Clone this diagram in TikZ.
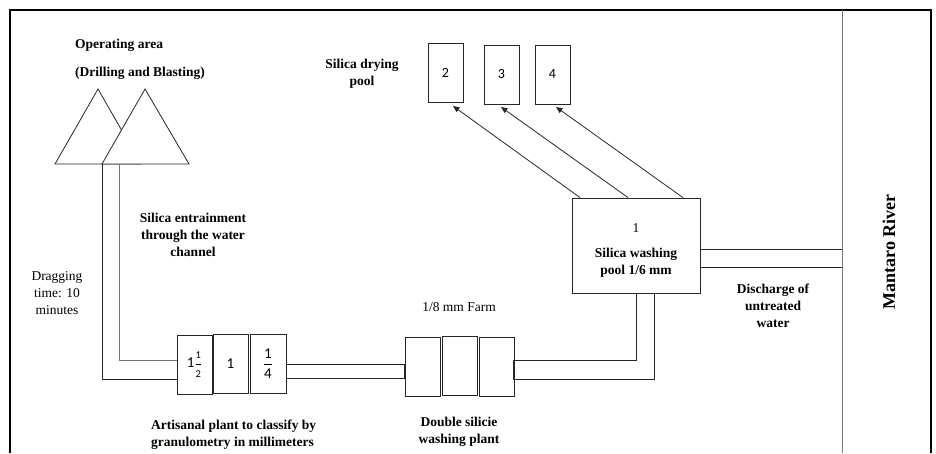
\documentclass[tikz,border=0pt]{standalone}
\usepackage{fontspec}
\setmainfont{Liberation Serif}
\newfontfamily\boxfont{Carlito}
\usetikzlibrary{arrows.meta}
\newcommand{\smalldig}[1]{\mbox{\fontsize{10.5}{10.5}\selectfont #1}}
\tikzset{
  ln/.style={draw=black!85, line width=0.8pt},
  gln/.style={draw=black!55, line width=0.9pt},
  boxn/.style={ln, fill=white, inner sep=0pt, minimum width=35pt, minimum height=59pt, font=\boxfont\fontsize{15}{17}\selectfont},
  lbl/.style={font=\bfseries\fontsize{13.5}{17}\selectfont, align=center, inner sep=0pt},
  rlbl/.style={font=\fontsize{13.5}{17}\selectfont, align=center, inner sep=0pt},
  arr/.style={ln, -{Triangle[length=6.5pt,width=5.5pt]}},
}
\begin{document}
\begin{tikzpicture}[x=1pt,y=-1pt]
\useasboundingbox (0,0) rectangle (936,453);
% frame
\coordinate (fTL) at (10,10);
\coordinate (fTR) at (931,10);
\draw[black, line width=1.8pt] (10,453) -- (fTL) -- (fTR) -- (931,453);
\coordinate (rivT) at (842,10);
\coordinate (rivB) at (842,453);
\draw[gln] (rivT) -- (rivB);
% triangles
\draw[ln, fill=white] (55,164) -- (98,89) -- (141,164) -- cycle;
\draw[ln, fill=white] (102,164) -- (145,89) -- (189,164) -- cycle;
% plant boxes
\node[boxn] (p1) at (194.5,364.5) {1$\displaystyle\frac{\smalldig{1}}{\smalldig{2}}$};
\node[boxn] (p2) at (230.5,363.5) {1};
\node[boxn, minimum width=36pt] (p3) at (268,363.5) {$\displaystyle\frac{\mbox{1}}{\mbox{4}}$};
% washing plant boxes
\node[boxn] (w1) at (422.5,366.5) {};
\node[boxn] (w2) at (459.5,365.5) {};
\node[boxn] (w3) at (496.5,366.5) {};
% washing pool
\node[ln, minimum width=128pt, minimum height=95pt, inner sep=0pt] (pool) at (636,245.5) {};
% drying pools
\node[boxn, font=\boxfont\fontsize{14}{16}\selectfont] (d2) at (445.5,72.5) {2};
\node[boxn, font=\boxfont\fontsize{14}{16}\selectfont] (d3) at (501.5,74.5) {3};
\node[boxn, font=\boxfont\fontsize{14}{16}\selectfont] (d4) at (552.5,74.5) {4};
% channel
\draw[ln] (102,164) -- (102,379) -- (p1.west |- 0,379);
\draw[gln] (119,164) -- (119,360) -- (p1.west |- 0,360);
% pipe plant -> washing plant
\draw[ln] (p3.east |- 0,364) rectangle (w1.west |- 0,378);
% pipe washing plant -> pool
\draw[ln] (pool.south -| 636,0) -- (636,360) -- (513,360) -- (513,379) -- (654,379) -- (pool.south -| 654,0);
% discharge
\draw[ln] (pool.east |- 0,249) -- (rivT |- 0,249);
\draw[ln] (pool.east |- 0,267) -- (rivT |- 0,267);
% arrows
\draw[arr] (pool.north -| 580,0) -- (453,106);
\draw[arr] (pool.north -| 628,0) -- (501,107);
\draw[arr] (pool.north -| 683,0) -- (556,107);
% texts
\node[lbl, anchor=west] (t1) at (75,45) {Operating area};
\node[lbl, anchor=west] (t2) at (75,73) {(Drilling and Blasting)};
\node[lbl] (t3) at (362,73.5) {Silica drying\\pool};
\node[lbl] (t4) at (193,235) {Silica entrainment\\through the water\\channel};
\node[rlbl] (t5) at (57,293) {Dragging\\time: 10\\minutes};
\node[rlbl] (t6) at (459,307) {1/8 mm Farm};
\node[lbl] (t7) at (459,431.5) {Double silicie\\washing plant};
\node[lbl, align=left, anchor=west] (t8) at (151,434.5) {Artisanal plant to classify by\\granulometry in millimeters};
\node[rlbl] (t9) at (636,228) {1};
\node[lbl] (t10) at (636,263) {Silica washing\\pool 1/6 mm};
\node[lbl] (t11) at (773,306) {Discharge of\\untreated\\water};
\node[font=\bfseries\fontsize{18}{20}\selectfont, rotate=90, inner sep=0pt] (t12) at (889,252) {Mantaro River};
\end{tikzpicture}
\end{document}
